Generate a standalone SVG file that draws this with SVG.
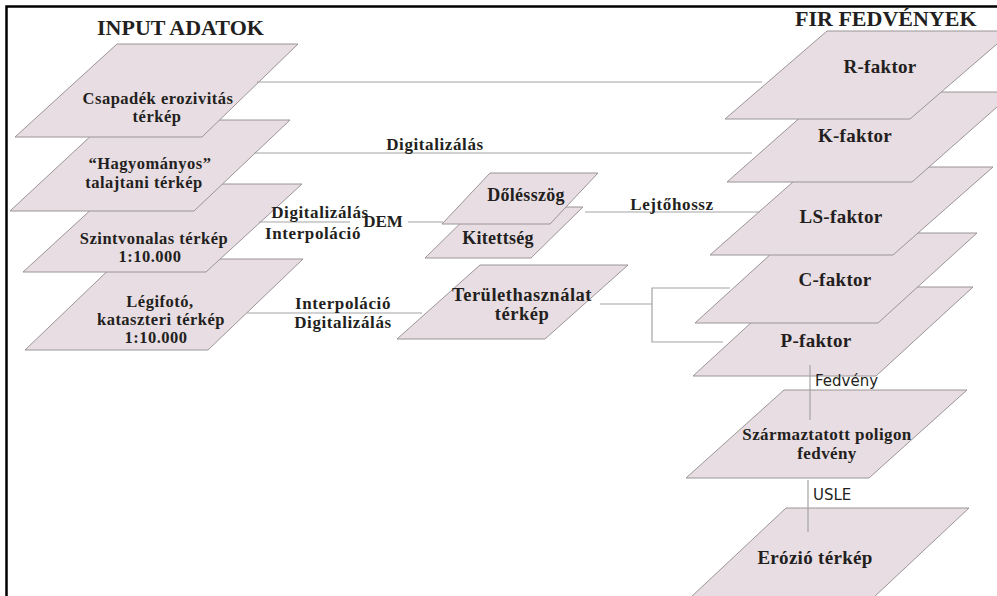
<svg xmlns="http://www.w3.org/2000/svg" width="997" height="596" viewBox="0 0 997 596">
<style>
.card{fill:#e8dde2;stroke:#9a9496;stroke-width:1}
.t{font-family:"Liberation Serif","Times New Roman",serif;font-weight:bold;fill:#231f20;text-anchor:middle}
.s{font-size:16.5px;letter-spacing:0.5px}
.m{font-size:17px;letter-spacing:0.6px}
.b{font-size:19px;letter-spacing:0.3px}
.h{font-size:22px;text-anchor:start}
.sans{font-family:"DejaVu Sans","Liberation Sans",sans-serif;font-size:15px;fill:#231f20}
.ln{stroke:#a3a3a3;stroke-width:1.2;fill:none}
</style>
<rect x="0" y="0" width="997" height="596" fill="#ffffff"/>
<path d="M6.5 596 V6.5 H997" fill="none" stroke="#000" stroke-width="2.5"/>
<text class="t h" x="97" y="35">INPUT ADATOK</text>
<text class="t h" x="795" y="26">FIR FEDVÉNYEK</text>

<g id="legifoto"><polygon class="card" points="120,259 303,259 208,350 25,350"/>
<text class="t s" x="160" y="307">Légifotó,</text><text class="t s" x="161" y="325">kataszteri térkép</text><text class="t s" x="156" y="343">1:10.000</text></g>
<g id="szintvonalas"><polygon class="card" points="119,184 302,184 206,272 23,272"/>
<text class="t s" x="154" y="244">Szintvonalas térkép</text><text class="t s" x="150" y="262">1:10.000</text></g>
<g id="hagyomanyos"><polygon class="card" points="108,120 290,120 194,211 10,211"/>
<text class="t s" x="150" y="169">“Hagyományos”</text><text class="t s" x="144" y="188">talajtani térkép</text></g>
<g id="csapadek"><polygon class="card" points="117,44 298,44 202,137 15,137"/>
<text class="t s" x="158" y="104">Csapadék erozivitás</text><text class="t s" x="157" y="122">térkép</text></g>

<g id="kitettseg"><polygon class="card" points="477,207 583,207 531,258 425,258"/>
<text class="t b" x="498" y="244" style="font-size:18px">Kitettség</text></g>
<g id="dolesszog"><polygon class="card" points="490,173 598,173 550,224 442,224"/>
<text class="t b" x="526" y="201" style="font-size:18px">Dőlésszög</text></g>
<g id="teruletHasznalat"><polygon class="card" points="480,265 628,265 545,339 397,339"/>
<text class="t b" x="522" y="301" style="font-size:18.5px;letter-spacing:0.5px">Területhasználat</text><text class="t b" x="522" y="320" style="font-size:18.5px;letter-spacing:0.5px">térkép</text></g>

<g id="erozio"><polygon class="card" points="786,508 969,508 873,598 690,598"/>
<text class="t b" x="815" y="564">Erózió térkép</text></g>
<g id="szarmaztatott"><polygon class="card" points="784,390 967,390 869,478 686,478"/>
<text class="t s" x="827" y="440" style="font-size:17px;letter-spacing:0.4px">Származtatott poligon</text><text class="t s" x="827" y="459" style="font-size:17px;letter-spacing:0.4px">fedvény</text></g>
<g id="pfaktor"><polygon class="card" points="790,287 973,287 876,376 693,376"/>
<text class="t b" x="816" y="347">P-faktor</text></g>
<g id="cfaktor"><polygon class="card" points="794,233 977,233 878,323 695,323"/>
<text class="t b" x="835" y="286">C-faktor</text></g>
<g id="lsfaktor"><polygon class="card" points="810,167 993,167 893,255 710,255"/>
<text class="t b" x="841" y="223">LS-faktor</text></g>
<g id="kfaktor"><polygon class="card" points="829,92 1014,92 912,182 727,182"/>
<text class="t b" x="855" y="142">K-faktor</text></g>
<g id="rfaktor"><polygon class="card" points="827,31 1012,31 910,119 725,119"/>
<text class="t b" x="880" y="73">R-faktor</text></g>

<g id="connectors">
<line class="ln" x1="257" y1="82" x2="762" y2="82"/>
<line class="ln" x1="254" y1="153" x2="752" y2="153"/>
<text class="t m" x="435" y="150">Digitalizálás</text>
<line class="ln" x1="259" y1="222" x2="350" y2="222"/>
<text class="t m" x="320" y="218">Digitalizálás</text>
<text class="t m" x="313" y="239">Interpoláció</text>
<text class="t m" x="383" y="227" style="letter-spacing:0">DEM</text>
<line class="ln" x1="408" y1="222" x2="443" y2="222"/>
<line class="ln" x1="585" y1="212" x2="760" y2="212"/>
<text class="t m" x="672" y="210">Lejtőhossz</text>
<line class="ln" x1="247" y1="313" x2="422" y2="313"/>
<text class="t m" x="343" y="309">Interpoláció</text>
<text class="t m" x="343" y="328">Digitalizálás</text>
<polyline class="ln" points="600,304 652,304"/>
<polyline class="ln" points="730,288 652,288 652,342 723,342"/>
<line class="ln" x1="810" y1="365" x2="810" y2="420"/>
<text class="sans" x="815" y="386">Fedvény</text>
<line class="ln" x1="808" y1="480" x2="808" y2="532"/>
<text class="sans" x="813" y="500">USLE</text>
</g>
</svg>
